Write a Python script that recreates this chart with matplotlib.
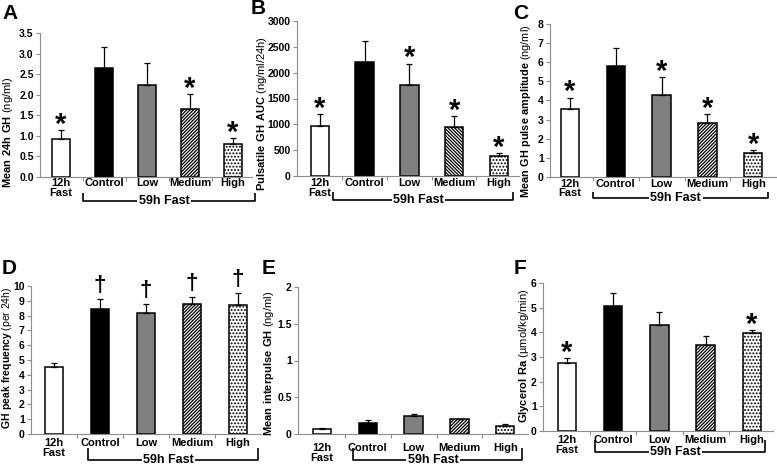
import numpy as np
import matplotlib.pyplot as plt
from matplotlib.transforms import blended_transform_factory

plt.rcParams['font.family'] = ['Liberation Sans', 'DejaVu Sans']
plt.rcParams['font.weight'] = 'bold'
plt.rcParams['mathtext.fontset'] = 'custom'
plt.rcParams['mathtext.rm'] = 'Liberation Sans'
plt.rcParams['mathtext.bf'] = 'Liberation Sans:bold'
plt.rcParams['hatch.linewidth'] = 0.9

W, H = 777, 470

groups = ['12h\nFast', 'Control', 'Low', 'Medium', 'High']
group_label = '59h Fast'

# A - mean 24h GH
gh_mean = [0.93, 2.65, 2.24, 1.66, 0.81]
gh_mean_err = [0.22, 0.50, 0.53, 0.35, 0.13]
gh_mean_sig = [1, 0, 0, 1, 1]

# B - pulsatile GH AUC
auc = [966, 2215, 1758, 953, 386]
auc_err = [238, 399, 418, 200, 52]
auc_sig = [1, 0, 1, 1, 1]

# C - pulse amplitude
amp = [3.57, 5.81, 4.27, 2.80, 1.26]
amp_err = [0.58, 0.93, 0.95, 0.51, 0.16]
amp_sig = [1, 0, 1, 1, 1]

# D - peak frequency
freq = [4.50, 8.42, 8.20, 8.78, 8.74]
freq_err = [0.32, 0.70, 0.58, 0.50, 0.81]
freq_sig = [0, 1, 1, 1, 1]

# E - interpulse GH
inter = [0.063, 0.154, 0.244, 0.200, 0.104]
inter_err = [0.014, 0.032, 0.023, 0.005, 0.032]
inter_sig = [0, 0, 0, 0, 0]

# F - glycerol Ra
glyc = [2.75, 5.07, 4.30, 3.50, 3.96]
glyc_err = [0.20, 0.51, 0.54, 0.35, 0.14]
glyc_sig = [1, 0, 0, 0, 1]

faces = ['white', 'black', '#808080', 'white', 'white']

AXCOL = '#8c8c8c'

fig = plt.figure(figsize=(W / 100, H / 100), dpi=100)


def px(x, y):
    return x / W, 1 - y / H


def panel(letter, vals, errs, sig, mark, ylabel, lay):
    L, R, y0, yt, c0, s = lay['box']
    ax = fig.add_axes([L / W, 1 - y0 / H, (R - L) / W, (y0 - yt) / H])
    ax.patch.set_visible(False)
    x = np.arange(len(vals))
    bars = ax.bar(x, vals, width=18.5 / s, color=faces, edgecolor='black',
                  linewidth=1.1, zorder=2)
    bars[3].set_hatch(lay.get('med_hatch', '/' * 10))
    bars[4].set_hatch('.' * 5)
    ax.errorbar(x, vals, yerr=[np.zeros(len(vals)), errs], fmt='none',
                ecolor='black', elinewidth=0.9, capsize=2.5, capthick=0.9, zorder=3)
    for i in x:
        if sig[i]:
            if mark == '*':
                ax.annotate('*', xy=(i, vals[i] + errs[i]), xytext=(0, -2),
                            textcoords='offset points', ha='center', va='baseline',
                            fontsize=21, fontweight='bold')
            else:
                ax.annotate(mark, xy=(i, vals[i] + errs[i]), xytext=(0, 2),
                            textcoords='offset points', ha='center', va='bottom',
                            fontsize=16, fontweight='bold')
    ax.set_xlim((L - c0) / s, (R - c0) / s)
    ax.set_ylim(0, lay['ymax'])
    ax.set_yticks(np.arange(0, lay['ymax'] + 1e-9, lay['step']))
    ax.yaxis.set_major_formatter(plt.FormatStrFormatter(lay['fmt']))
    ax.set_xticks(x, groups)
    ax.set_xticks(x[:-1] + 0.5, minor=True)
    for lab in ax.get_xticklabels():
        lab.set_linespacing(0.95)
    ax.tick_params(axis='x', which='major', length=0, labelsize=8, pad=lay['pad'])
    ax.tick_params(axis='x', which='minor', length=3, width=0.8, color=AXCOL)
    ax.tick_params(axis='y', length=3, width=0.8, color=AXCOL, labelsize=7.5, pad=1.5)
    for sp in ['top', 'right']:
        ax.spines[sp].set_visible(False)
    for sp in ['left', 'bottom']:
        ax.spines[sp].set_color(AXCOL)
        ax.spines[sp].set_linewidth(0.8)

    # bracket under the 59h fast groups
    b0, b1, by, bh = lay['bracket']
    tr = blended_transform_factory(ax.transData, fig.transFigure)
    yl = 1 - by / H
    yh = 1 - (by - bh) / H
    ax.plot([b0, b0, b1, b1], [yh, yl, yl, yh], color='black', lw=1.2,
            transform=tr, clip_on=False, solid_capstyle='butt')
    ax.text((b0 + b1) / 2 - 0.1, yl, group_label, transform=tr, ha='center', va='center',
            fontsize=9, fontweight='bold',
            bbox=dict(facecolor='white', edgecolor='none', pad=1.0))

    lx, ly = lay['ylab']
    fig.text(*px(lx, ly), ylabel, rotation=90, ha='center', va='center',
             fontsize=lay.get('ylab_size', 8), fontweight='normal')
    fig.text(*px(*lay['letter']), letter, fontsize=15, fontweight='bold',
             ha='left', va='baseline')
    return ax


panel('A', gh_mean, gh_mean_err, gh_mean_sig, '*',
      r'$\mathbf{Mean\ 24h\ GH}$ (ng/ml)',
      dict(box=(40, 252, 177, 33, 61, 43), ymax=3.5, step=0.5, fmt='%.1f',
           pad=0.7, bracket=(0.5, 4.5, 201, 8), ylab=(8, 132), letter=(2, 19)))
panel('B', auc, auc_err, auc_sig, '*',
      r'$\mathbf{Pulsatile\ GH\ AUC}$ (ng/ml/24h)',
      dict(box=(297, 519, 176, 21, 320, 44.7), ymax=3000, step=500, fmt='%d',
           pad=1.5, bracket=(0.29, 4.31, 200, 8), ylab=(262, 114), letter=(251, 14),
           med_hatch='\\' * 10))
panel('C', amp, amp_err, amp_sig, '*',
      r'$\mathbf{Mean\ GH\ pulse\ amplitude}$ (ng/ml)',
      dict(box=(550, 777, 177, 24, 570, 45.8), ymax=8, step=1, fmt='%d',
           pad=1.2, bracket=(0.5, 4.32, 198, 6), ylab=(526, 111), letter=(513, 19),
           ylab_size=7.8))
panel('D', freq, freq_err, freq_sig, '\u2020',
      r'$\mathbf{GH\ peak\ frequency}$ (per 24h)',
      dict(box=(31, 261, 434, 286, 54, 46), ymax=10, step=1, fmt='%d',
           pad=3, bracket=(0.74, 4.43, 460, 12), ylab=(7, 358), letter=(2, 274),
           ylab_size=7.5))
panel('E', inter, inter_err, inter_sig, '*',
      r'$\mathbf{Mean\ interpulse\ GH}$ (ng/ml)',
      dict(box=(298, 528, 434, 287, 322, 45.8), ymax=2, step=0.5, fmt='%g',
           pad=6.5, bracket=(0.68, 4.37, 460, 12), ylab=(269, 363), letter=(262, 274)))
panel('F', glyc, glyc_err, glyc_sig, '*',
      r'$\mathbf{Glycerol\ Ra}$ (µmol/kg/min)',
      dict(box=(543, 773, 431, 283, 567, 46.2), ymax=6, step=1, fmt='%d',
           pad=3, bracket=(0.61, 4.29, 452, 12), ylab=(524, 356), letter=(514, 274)))

fig.savefig('out.png', dpi=100)
